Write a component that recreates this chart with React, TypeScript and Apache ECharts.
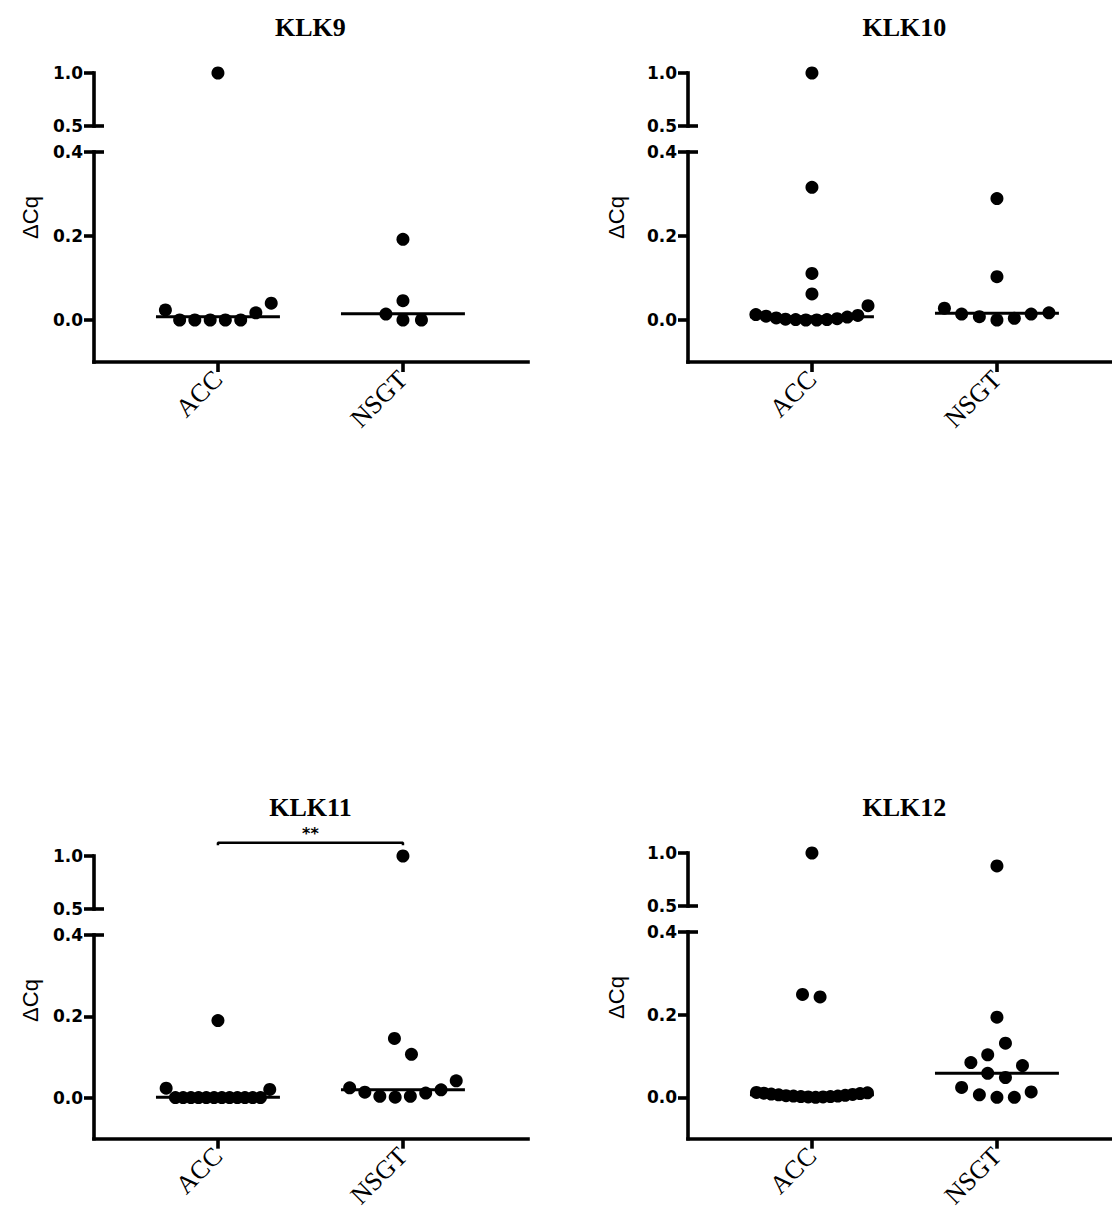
import React, { useEffect, useRef } from "react";
import * as echarts from "echarts";

// ---------- data ----------
const CATEGORIES = ["ACC", "NSGT"];
const PANEL_TITLES = ["KLK9", "KLK10", "KLK11", "KLK12"];
const Y_AXIS_NAME = "ΔCq";
const UPPER_TICKS = [0.5, 1.0];
const LOWER_TICKS = [0.0, 0.2, 0.4];
const UPPER_RANGE = [0.5, 1.0];
const LOWER_RANGE = [-0.1, 0.4];

// KLK9
const klk9AccValues = [1.0, 0.024, 0.0, 0.0, 0.0, 0.0, 0.0, 0.017, 0.040];
const klk9AccJitter = [0, -0.284, -0.207, -0.125, -0.042, 0.040, 0.123, 0.205, 0.288];
const klk9NsgtValues = [0.192, 0.046, 0.014, 0.0, 0.0];
const klk9NsgtJitter = [0, 0, -0.092, 0, 0.100];
const klk9Medians = [0.008, 0.015];

// KLK10
const klk10AccValues = [1.0, 0.316, 0.111, 0.062, 0.034, 0.013, 0.009, 0.005, 0.002, 0.001, 0.0, 0.0, 0.001, 0.003, 0.007, 0.011];
const klk10AccJitter = [0, 0, 0, 0, 0.303, -0.303, -0.248, -0.193, -0.143, -0.088, -0.033, 0.026, 0.081, 0.136, 0.191, 0.248];
const klk10NsgtValues = [0.289, 0.103, 0.028, 0.014, 0.008, 0.0, 0.004, 0.014, 0.017];
const klk10NsgtJitter = [0, 0, -0.284, -0.191, -0.095, 0, 0.094, 0.185, 0.281];
const klk10Medians = [0.008, 0.016];

// KLK11
const klk11AccValues = [0.190, 0.024, 0.001, 0.001, 0.001, 0.001, 0.001, 0.001, 0.001, 0.001, 0.001, 0.001, 0.001, 0.001, 0.021];
const klk11AccJitter = [0, -0.28, -0.23, -0.188, -0.146, -0.105, -0.063, -0.021, 0.021, 0.063, 0.105, 0.146, 0.188, 0.23, 0.28];
const klk11NsgtValues = [1.0, 0.146, 0.107, 0.042, 0.025, 0.014, 0.004, 0.002, 0.004, 0.012, 0.020];
const klk11NsgtJitter = [0, -0.046, 0.046, 0.288, -0.288, -0.206, -0.125, -0.042, 0.040, 0.123, 0.206];
const klk11Medians = [0.002, 0.020];

// KLK12
const klk12AccValues = [1.0, 0.249, 0.243, 0.012, 0.010, 0.008, 0.006, 0.004, 0.003, 0.002, 0.001, 0.0, 0.001, 0.002, 0.003, 0.005, 0.007, 0.009, 0.011];
const klk12AccJitter = [0, -0.051, 0.044, -0.30, -0.26, -0.22, -0.18, -0.14, -0.10, -0.06, -0.02, 0.02, 0.06, 0.10, 0.14, 0.18, 0.22, 0.26, 0.30];
const klk12NsgtValues = [0.878, 0.194, 0.131, 0.103, 0.084, 0.077, 0.058, 0.048, 0.024, 0.013, 0.006, 0.0, 0.0];
const klk12NsgtJitter = [0, 0, 0.046, -0.05, -0.141, 0.138, -0.05, 0.046, -0.191, 0.185, -0.095, 0, 0.094];
const klk12Medians = [0.006, 0.058];

// significance bracket (KLK11)
const SIG_PANEL = 2;
const SIG_LABEL = "**";
const SIG_LEVEL = 1.125;
const SIG_END = 1.102;

const PANELS = [
  { values: [klk9AccValues, klk9NsgtValues], jitter: [klk9AccJitter, klk9NsgtJitter], medians: klk9Medians },
  { values: [klk10AccValues, klk10NsgtValues], jitter: [klk10AccJitter, klk10NsgtJitter], medians: klk10Medians },
  { values: [klk11AccValues, klk11NsgtValues], jitter: [klk11AccJitter, klk11NsgtJitter], medians: klk11Medians },
  { values: [klk12AccValues, klk12NsgtValues], jitter: [klk12AccJitter, klk12NsgtJitter], medians: klk12Medians },
];

// ---------- layout ----------
const LAYOUT = [
  { left: 94, top: 73, width: 434, titleY: 27, nameX: 30 },
  { left: 688, top: 73, width: 424, titleY: 27, nameX: 616 },
  { left: 94, top: 856, width: 434, titleY: 807, nameX: 30 },
  { left: 688, top: 853, width: 424, titleY: 807, nameX: 616 },
];
const UNIT = 185;
const X_MIN = -0.67;
const UPPER_H = 53;
const GAP = 26;
const LOWER_H = 210;
const MEDIAN_HALF = 0.335;

const BLACK = "#000";
const axisLine = { color: BLACK, width: 3.6, cap: "square" as const };
const tickStyle = { color: BLACK, width: 3.6 };
const tickFont = { fontFamily: "DejaVu Sans", fontWeight: "bold" as const, fontSize: 17, color: BLACK };
const pointStyle = { color: BLACK, opacity: 1 };

function buildOption() {
  const grid: any[] = [];
  const xAxis: any[] = [];
  const yAxis: any[] = [];
  const series: any[] = [];
  const graphic: any[] = [];

  PANELS.forEach((panel, p) => {
    const L = LAYOUT[p];
    const xMax = X_MIN + L.width / UNIT;
    const gU = grid.length;
    grid.push({ left: L.left, top: L.top, width: L.width, height: UPPER_H });
    const gL = grid.length;
    grid.push({ left: L.left, top: L.top + UPPER_H + GAP, width: L.width, height: LOWER_H });

    // x axes
    xAxis.push({ type: "value", gridIndex: gU, min: X_MIN, max: xMax, show: false });
    xAxis.push({
      type: "value", gridIndex: gL, min: X_MIN, max: xMax,
      axisLine: { show: true, onZero: false, lineStyle: axisLine },
      axisTick: { show: true, length: 10, lineStyle: tickStyle, customValues: [0, 1] },
      axisLabel: {
        show: true, customValues: [0, 1], rotate: 45, margin: 13,
        formatter: (v: number) => CATEGORIES[Math.round(v)],
        fontFamily: "Liberation Serif", fontSize: 26, color: BLACK,
      },
      splitLine: { show: false },
    });

    // y axes: upper main, upper break, lower main, lower break
    const yUMain = yAxis.length;
    yAxis.push({
      type: "value", gridIndex: gU, position: "left", min: UPPER_RANGE[0], max: UPPER_RANGE[1],
      axisLine: { show: true, onZero: false, lineStyle: axisLine },
      axisTick: { show: true, length: 10, lineStyle: tickStyle, customValues: UPPER_TICKS },
      axisLabel: { show: true, customValues: UPPER_TICKS, margin: 11, formatter: (v: number) => v.toFixed(1), ...tickFont },
      splitLine: { show: false },
    });
    yAxis.push({
      type: "value", gridIndex: gU, position: "left", offset: 0, min: UPPER_RANGE[0], max: UPPER_RANGE[1],
      axisLine: { show: false, onZero: false },
      axisTick: { show: true, inside: true, length: 10, lineStyle: tickStyle, customValues: [UPPER_RANGE[0]] },
      axisLabel: { show: false },
      splitLine: { show: false },
    });
    const yLMain = yAxis.length;
    yAxis.push({
      type: "value", gridIndex: gL, position: "left", min: LOWER_RANGE[0], max: LOWER_RANGE[1],
      axisLine: { show: true, onZero: false, lineStyle: axisLine },
      axisTick: { show: true, length: 10, lineStyle: tickStyle, customValues: LOWER_TICKS },
      axisLabel: { show: true, customValues: LOWER_TICKS, margin: 11, formatter: (v: number) => v.toFixed(1), ...tickFont },
      splitLine: { show: false },
    });
    yAxis.push({
      type: "value", gridIndex: gL, position: "left", offset: 0, min: LOWER_RANGE[0], max: LOWER_RANGE[1],
      axisLine: { show: false, onZero: false },
      axisTick: { show: true, inside: true, length: 10, lineStyle: tickStyle, customValues: [LOWER_RANGE[1]] },
      axisLabel: { show: false },
      splitLine: { show: false },
    });

    panel.values.forEach((vals, c) => {
      const jit = panel.jitter[c];
      const upper: number[][] = [];
      const lower: number[][] = [];
      vals.forEach((v, i) => {
        const pt = [c + jit[i], v];
        if (v >= UPPER_RANGE[0]) upper.push(pt);
        else lower.push(pt);
      });
      series.push({
        type: "line", xAxisIndex: gL, yAxisIndex: yLMain, silent: true, symbol: "none", z: 1,
        data: [[c - MEDIAN_HALF, panel.medians[c]], [c + MEDIAN_HALF, panel.medians[c]]],
        lineStyle: { color: BLACK, width: 3 },
      });
      series.push({
        type: "scatter", xAxisIndex: gU, yAxisIndex: yUMain, silent: true, z: 3,
        symbol: "circle", symbolSize: 13, itemStyle: pointStyle, data: upper,
      });
      series.push({
        type: "scatter", xAxisIndex: gL, yAxisIndex: yLMain, silent: true, z: 3,
        symbol: "circle", symbolSize: 13, itemStyle: pointStyle, data: lower,
      });
    });

    if (p === SIG_PANEL) {
      series.push({
        type: "line", xAxisIndex: gU, yAxisIndex: yUMain, silent: true, symbol: "none", clip: false,
        data: [[0, SIG_END], [0, SIG_LEVEL], [1, SIG_LEVEL], [1, SIG_END]],
        lineStyle: { color: BLACK, width: 2.5 },
      });
      series.push({
        type: "scatter", xAxisIndex: gU, yAxisIndex: yUMain, silent: true, clip: false,
        symbol: "circle", symbolSize: 1, itemStyle: { color: "rgba(0,0,0,0)", opacity: 1 },
        data: [[0.5, SIG_LEVEL]],
        label: {
          show: true, position: "top", distance: 1, formatter: SIG_LABEL,
          fontFamily: "DejaVu Sans", fontWeight: "bold", fontSize: 16, color: BLACK,
        },
      });
    }

    graphic.push({
      type: "text",
      x: L.left + (0.5 - X_MIN) * UNIT,
      y: L.titleY,
      style: {
        text: PANEL_TITLES[p], fill: BLACK,
        font: 'bold 26px "Liberation Serif"',
        align: "center", verticalAlign: "middle",
        textAlign: "center", textVerticalAlign: "middle",
      },
    });
    graphic.push({
      type: "text",
      x: L.nameX,
      y: L.top + (UPPER_H + GAP + LOWER_H) / 2,
      rotation: Math.PI / 2,
      style: {
        text: Y_AXIS_NAME, fill: BLACK,
        font: '22px "Liberation Sans"',
        align: "center", verticalAlign: "middle",
        textAlign: "center", textVerticalAlign: "middle",
      },
    });
  });

  return {
    animation: false,
    backgroundColor: "#fff",
    grid, xAxis, yAxis, series, graphic,
  };
}

export default function App() {
  const ref = useRef<HTMLDivElement>(null);
  useEffect(() => {
    if (!ref.current) return;
    const chart = echarts.init(ref.current, undefined, { renderer: "svg" });
    chart.setOption(buildOption() as any);
    return () => chart.dispose();
  }, []);
  return (
    <div
      ref={ref}
      style={{ position: "absolute", left: 0, top: 0, width: 1112, height: 1211, background: "#fff" }}
    />
  );
}
